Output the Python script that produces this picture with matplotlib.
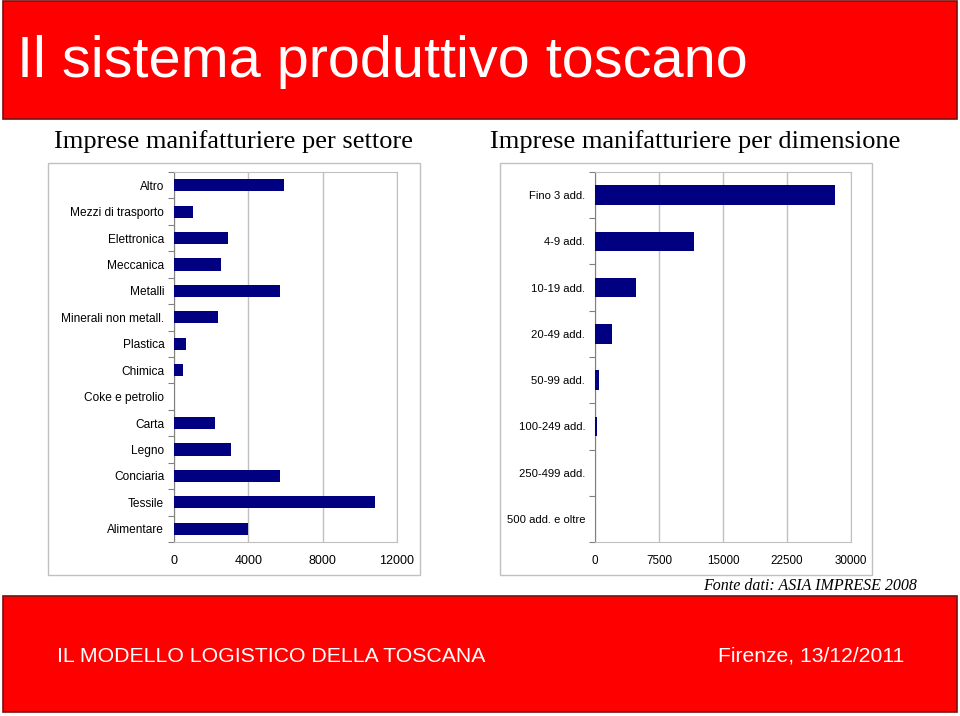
import matplotlib
matplotlib.use("Agg")
import matplotlib.pyplot as plt
from matplotlib.patches import Rectangle

# Dati (ASIA IMPRESE 2008)
settori = ["Altro", "Mezzi di trasporto", "Elettronica", "Meccanica", "Metalli",
           "Minerali non metall.", "Plastica", "Chimica", "Coke e petrolio",
           "Carta", "Legno", "Conciaria", "Tessile", "Alimentare"]
imprese_settore = [5900, 1040, 2930, 2520, 5680, 2390, 630, 470, 0,
                   2190, 3050, 5710, 10830, 3990]

dimensioni = ["Fino 3 add.", "4-9 add.", "10-19 add.", "20-49 add.",
              "50-99 add.", "100-249 add.", "250-499 add.", "500 add. e oltre"]
imprese_dimensione = [28080, 11590, 4860, 1960, 430, 200, 0, 0]

ticks_settore = [0, 4000, 8000, 12000]
ticks_dimensione = [0, 7500, 15000, 22500, 30000]

W, H = 960, 716
sans = ["Liberation Sans", "DejaVu Sans"]
serif = ["Liberation Serif", "DejaVu Serif"]
rosso = "#ff0000"
blu = "#000080"
grigio = "#c0c0c0"

plt.rcParams["font.family"] = sans

fig = plt.figure(figsize=(W / 100, H / 100), dpi=100)


def box(x0, y0, x1, y1):
    # pixel -> coordinate figura
    return [x0 / W, 1 - y1 / H, (x1 - x0) / W, (y1 - y0) / H]


def px(x, y):
    return x / W, 1 - y / H


# Bande rosse
for (x0, y0, x1, y1) in [(3, 1, 957, 119), (3, 596, 957, 712)]:
    b = box(x0, y0, x1, y1)
    fig.patches.append(Rectangle((b[0], b[1]), b[2], b[3], transform=fig.transFigure,
                                 facecolor=rosso, edgecolor="#7a1010", linewidth=1.2,
                                 zorder=-5))

# Riquadri dei grafici
for (x0, y0, x1, y1) in [(48, 163, 420, 575), (500, 163, 872, 575)]:
    b = box(x0, y0, x1, y1)
    fig.patches.append(Rectangle((b[0], b[1]), b[2], b[3], transform=fig.transFigure,
                                 facecolor="white", edgecolor=grigio, linewidth=1.0,
                                 zorder=-5))

fig.text(*px(17, 62), "Il sistema produttivo toscano", color="white",
         fontsize=41.5, va="center", ha="left")
fig.text(*px(57, 656), "IL MODELLO LOGISTICO DELLA TOSCANA", color="white",
         fontsize=15.3, va="center", ha="left")
fig.text(*px(718, 656), "Firenze, 13/12/2011", color="white",
         fontsize=15.2, va="center", ha="left")
fig.text(*px(917, 586), "Fonte dati: ASIA IMPRESE 2008", color="black",
         fontsize=11.5, family=serif, style="italic", va="center", ha="right")
fig.text(*px(233, 142), "Imprese manifatturiere per settore", color="black",
         fontsize=19, family=serif, va="center", ha="center")
fig.text(*px(695, 142), "Imprese manifatturiere per dimensione", color="black",
         fontsize=19, family=serif, va="center", ha="center")


def barre(pos, cats, vals, ticks, altezza, pad, fs_y, fs_x):
    ax = fig.add_axes(box(*pos))
    y = list(range(len(cats)))
    ax.barh(y, vals, height=altezza, color=blu, edgecolor="none", zorder=3)
    ax.set_ylim(len(cats) - 0.5, -0.5)
    ax.set_xlim(ticks[0], ticks[-1])
    ax.set_xticks(ticks)
    ax.set_xticklabels([str(t) for t in ticks])
    ax.set_yticks(y)
    ax.set_yticklabels(cats)
    ax.set_yticks([i - 0.5 for i in range(len(cats) + 1)], minor=True)
    ax.tick_params(axis="y", which="major", length=0, pad=pad, labelsize=fs_y)
    ax.tick_params(axis="y", which="minor", length=4, color="#808080", width=0.8)
    ax.tick_params(axis="x", length=0, pad=9, labelsize=fs_x)
    ax.grid(axis="x", color=grigio, linewidth=1.0, zorder=0)
    for s in ["top", "right", "bottom"]:
        ax.spines[s].set_color(grigio)
    ax.spines["left"].set_color("#808080")
    ax.set_facecolor("white")
    return ax


barre((174, 172, 397, 542), settori, imprese_settore, ticks_settore, 0.46, 7, 8.6, 9)
barre((595, 172, 851, 542), dimensioni, imprese_dimensione, ticks_dimensione, 0.42, 7, 8.1, 8.4)

fig.savefig("out.png", dpi=100, facecolor="white")
